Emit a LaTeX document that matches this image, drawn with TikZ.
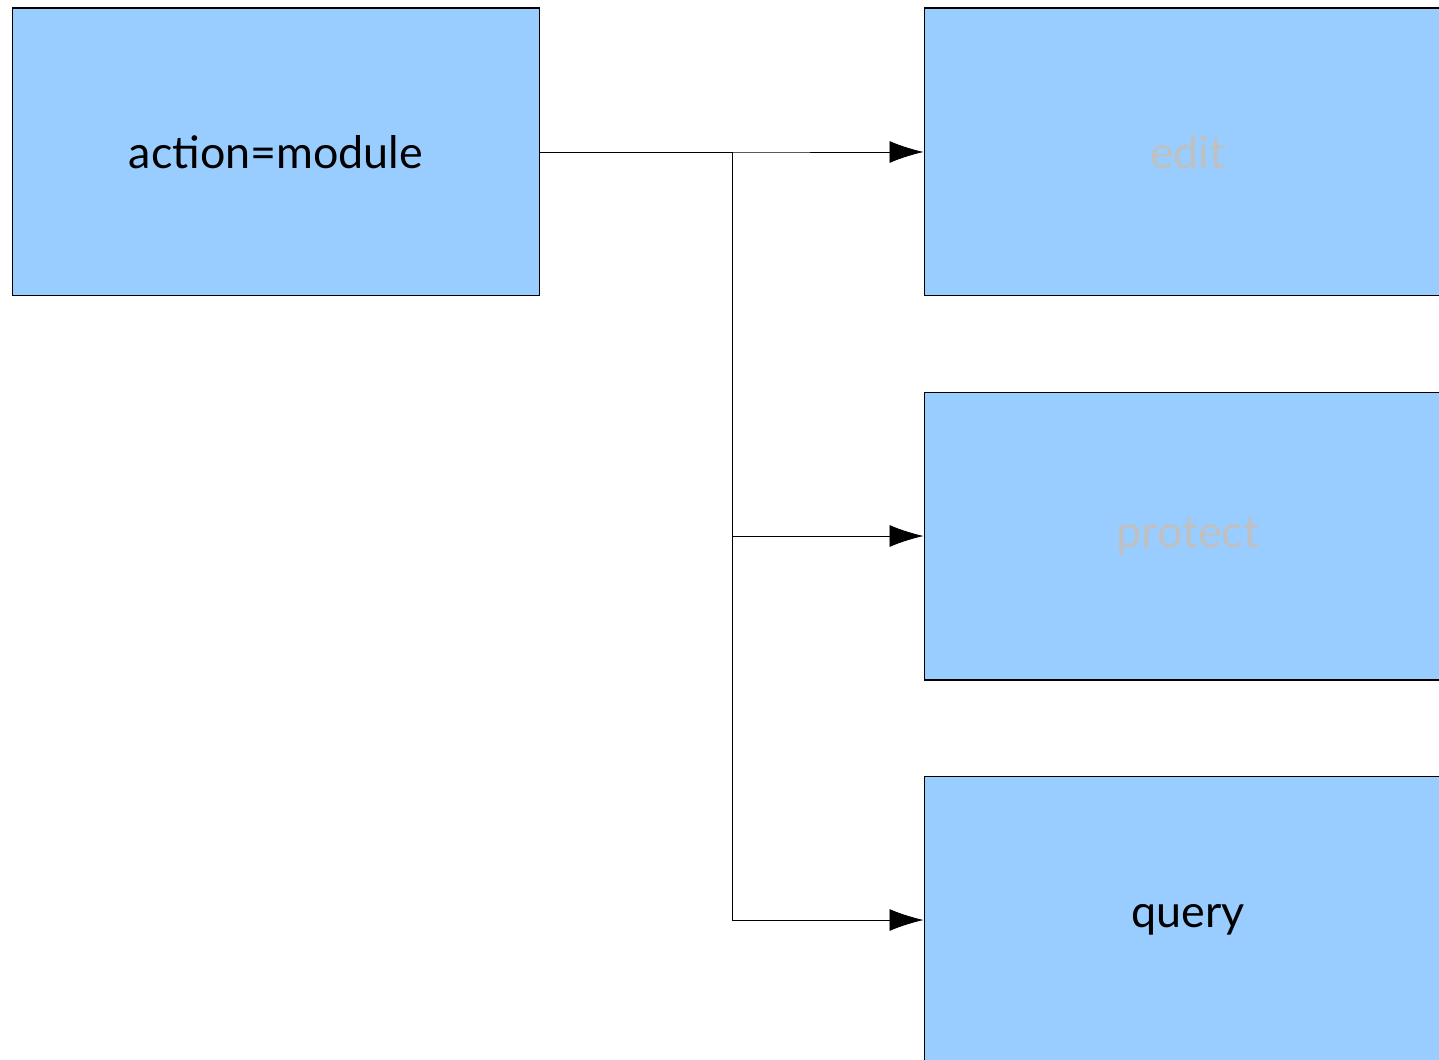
\documentclass[tikz,border=0pt]{standalone}
\usepackage{fontspec}
\setmainfont{Lato}
\usepackage{xcolor}
\usetikzlibrary{arrows.meta}
\definecolor{boxblue}{RGB}{153,204,255}
\definecolor{greyed}{RGB}{192,192,192}

\begin{document}
\begin{tikzpicture}[x=0.02cm,y=-0.02cm,
  modbox/.style={draw=black,line width=0.6pt,fill=boxblue,minimum width=10.56cm,minimum height=5.76cm,inner sep=0pt,font=\fontsize{25.5}{30}\selectfont},
  link/.style={line width=0.5pt,-{Latex[length=0.68cm,width=0.44cm]}}]
  \useasboundingbox (0,0) rectangle (1439,1060);
  \clip (0,0) rectangle (1439,1060);

  %Modules
  \node[modbox] (main) at (276,152) {action=module};
  \node[modbox,text=greyed] (edit) at (1188,152) {edit};
  \node[modbox,text=greyed] (protect) at (1188,536) {protect};
  \node[modbox] (query) at (1188,920) {query};

  %Connectors
  \coordinate (junction) at (732,152);
  \foreach \m in {edit,protect,query}
    \draw[link] (main.east) -- (junction) |- (\m.west);
\end{tikzpicture}
\end{document}
